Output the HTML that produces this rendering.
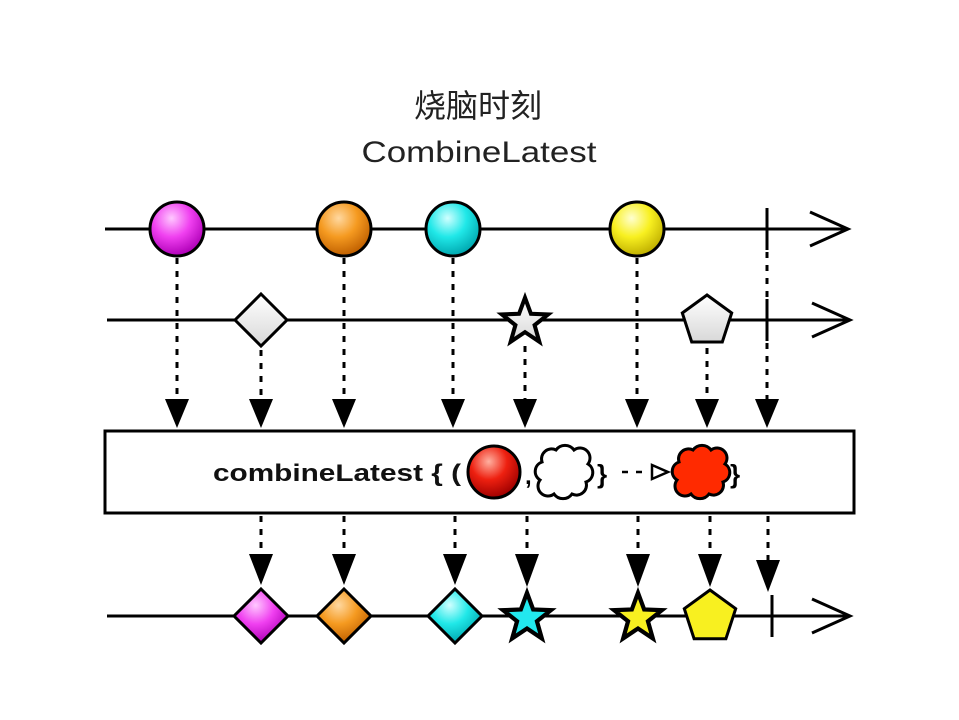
<!DOCTYPE html>
<html><head><meta charset="utf-8"><style>html,body{margin:0;padding:0;background:#fff}svg{display:block}</style></head>
<body>
<svg width="959" height="720" viewBox="0 0 959 720" xmlns="http://www.w3.org/2000/svg">
<defs>
<radialGradient id="gm" cx="0.4" cy="0.3" r="0.7"><stop offset="0" stop-color="#ffc8ff"/><stop offset="0.5" stop-color="#f040f0"/><stop offset="1" stop-color="#b000b8"/></radialGradient>
<radialGradient id="go" cx="0.4" cy="0.3" r="0.7"><stop offset="0" stop-color="#ffd8a0"/><stop offset="0.5" stop-color="#f59a20"/><stop offset="1" stop-color="#c06000"/></radialGradient>
<radialGradient id="gc" cx="0.4" cy="0.3" r="0.7"><stop offset="0" stop-color="#d0ffff"/><stop offset="0.5" stop-color="#20e8e8"/><stop offset="1" stop-color="#00a8b0"/></radialGradient>
<radialGradient id="gy" cx="0.4" cy="0.3" r="0.7"><stop offset="0" stop-color="#ffffd0"/><stop offset="0.5" stop-color="#f8f020"/><stop offset="1" stop-color="#c0b000"/></radialGradient>
<radialGradient id="gr" cx="0.4" cy="0.3" r="0.7"><stop offset="0" stop-color="#ffb0a0"/><stop offset="0.5" stop-color="#ee2010"/><stop offset="1" stop-color="#a00000"/></radialGradient>
<linearGradient id="gw" x1="0" y1="0" x2="0" y2="1"><stop offset="0" stop-color="#fff"/><stop offset="1" stop-color="#d8d8d8"/></linearGradient>
</defs>
<text x="478" y="117" text-anchor="middle" font-family="Liberation Sans, Noto Sans CJK SC, sans-serif" font-size="32" fill="#222">烧脑时刻</text>
<text x="479" y="162" text-anchor="middle" font-family="Liberation Sans, sans-serif" font-size="30" fill="#222" textLength="235" lengthAdjust="spacingAndGlyphs">CombineLatest</text>

<g stroke="#000" stroke-width="3" fill="none">
<line x1="105" y1="229" x2="848" y2="229"/>
<polyline points="810,212 848,229 810,246"/>
<line x1="767" y1="208" x2="767" y2="250"/>
<line x1="107" y1="320" x2="850" y2="320"/>
<polyline points="812,303 850,320 812,337"/>
<line x1="767" y1="299" x2="767" y2="341"/>
<line x1="107" y1="616" x2="850" y2="616"/>
<polyline points="812,599 850,616 812,633"/>
<line x1="772" y1="595" x2="772" y2="637"/>
</g>

<g stroke="#000" stroke-width="3" stroke-dasharray="6,7">
<line x1="177" y1="258" x2="177" y2="400"/>
<line x1="344" y1="258" x2="344" y2="400"/>
<line x1="453" y1="258" x2="453" y2="400"/>
<line x1="637" y1="258" x2="637" y2="400"/>
<line x1="767" y1="252" x2="767" y2="400"/>
<line x1="261" y1="350" x2="261" y2="400"/>
<line x1="525" y1="346" x2="525" y2="400"/>
<line x1="707" y1="348" x2="707" y2="400"/>
<line x1="261" y1="516" x2="261" y2="555"/>
<line x1="344" y1="516" x2="344" y2="555"/>
<line x1="455" y1="516" x2="455" y2="555"/>
<line x1="527" y1="516" x2="527" y2="555"/>
<line x1="638" y1="516" x2="638" y2="555"/>
<line x1="710" y1="516" x2="710" y2="555"/>
<line x1="768" y1="516" x2="768" y2="560"/>
</g>
<g fill="#000">
<polygon points="165,399 189,399 177,428"/>
<polygon points="249,399 273,399 261,428"/>
<polygon points="332,399 356,399 344,428"/>
<polygon points="441,399 465,399 453,428"/>
<polygon points="513,399 537,399 525,428"/>
<polygon points="625,399 649,399 637,428"/>
<polygon points="695,399 719,399 707,428"/>
<polygon points="755,399 779,399 767,428"/>
<polygon points="249,554 273,554 261,585"/>
<polygon points="332,554 356,554 344,585"/>
<polygon points="443,554 467,554 455,585"/>
<polygon points="515,554 539,554 527,587"/>
<polygon points="626,554 650,554 638,587"/>
<polygon points="698,554 722,554 710,587"/>
<polygon points="756,560 780,560 768,592"/>
</g>

<rect x="105" y="431" width="749" height="82" fill="#fff" stroke="#000" stroke-width="3"/>
<text x="213" y="481" font-family="Liberation Sans, sans-serif" font-weight="bold" font-size="24" fill="#111" textLength="248" lengthAdjust="spacingAndGlyphs">combineLatest { (</text>
<circle cx="494" cy="472" r="26" fill="url(#gr)" stroke="#000" stroke-width="3"/>
<text x="525" y="484" font-family="Liberation Sans, sans-serif" font-weight="bold" font-size="24">,</text>
<path d="M542,462 a10,10 0 0 1 14,-12 a11,11 0 0 1 18,0 a10,10 0 0 1 14,14 a10,10 0 0 1 -2,18 a10,10 0 0 1 -14,12 a11,11 0 0 1 -18,0 a10,10 0 0 1 -14,-14 a10,10 0 0 1 2,-18 z" fill="#fff" stroke="#000" stroke-width="3"/>
<text x="597" y="483" font-family="Liberation Sans, sans-serif" font-weight="bold" font-size="26">}</text>
<line x1="622" y1="472" x2="650" y2="472" stroke="#000" stroke-width="2.5" stroke-dasharray="6,8"/>
<polygon points="652,465 668,472 652,479" fill="#fff" stroke="#000" stroke-width="2.5"/>
<path d="M679,462 a10,10 0 0 1 14,-12 a11,11 0 0 1 18,0 a10,10 0 0 1 14,14 a10,10 0 0 1 -2,18 a10,10 0 0 1 -14,12 a11,11 0 0 1 -18,0 a10,10 0 0 1 -14,-14 a10,10 0 0 1 2,-18 z" fill="#ff2a00" stroke="#000" stroke-width="3"/>
<text x="730" y="483" font-family="Liberation Sans, sans-serif" font-weight="bold" font-size="26">}</text>

<g stroke="#000" stroke-width="3">
<circle cx="177" cy="229" r="27" fill="url(#gm)"/>
<circle cx="344" cy="229" r="27" fill="url(#go)"/>
<circle cx="453" cy="229" r="27" fill="url(#gc)"/>
<circle cx="637" cy="229" r="27" fill="url(#gy)"/>
<polygon transform="translate(261,320)" points="0,-26 26,0 0,26 -26,0" fill="url(#gw)"/>
<polygon transform="translate(525,322) scale(1.35)" points="0,-18 4.4,-6.1 17.1,-5.6 7.1,2.3 10.6,14.6 0,7.5 -10.6,14.6 -7.1,2.3 -17.1,-5.6 -4.4,-6.1" fill="url(#gw)"/>
<polygon transform="translate(707,321)" points="0,-26 24.7,-8 15.3,21 -15.3,21 -24.7,-8" fill="url(#gw)"/>
<polygon transform="translate(261,616)" points="0,-27 27,0 0,27 -27,0" fill="url(#gm)"/>
<polygon transform="translate(344,616)" points="0,-27 27,0 0,27 -27,0" fill="url(#go)"/>
<polygon transform="translate(455,616)" points="0,-27 27,0 0,27 -27,0" fill="url(#gc)"/>
<polygon transform="translate(527,618) scale(1.4)" points="0,-18 4.4,-6.1 17.1,-5.6 7.1,2.3 10.6,14.6 0,7.5 -10.6,14.6 -7.1,2.3 -17.1,-5.6 -4.4,-6.1" fill="#22e8ee"/>
<polygon transform="translate(638,618) scale(1.4)" points="0,-18 4.4,-6.1 17.1,-5.6 7.1,2.3 10.6,14.6 0,7.5 -10.6,14.6 -7.1,2.3 -17.1,-5.6 -4.4,-6.1" fill="#f8f020"/>
<polygon transform="translate(710,617)" points="0,-27 25.7,-8.3 15.9,21.8 -15.9,21.8 -25.7,-8.3" fill="#f8f020"/>
</g>
</svg>
</body></html>
